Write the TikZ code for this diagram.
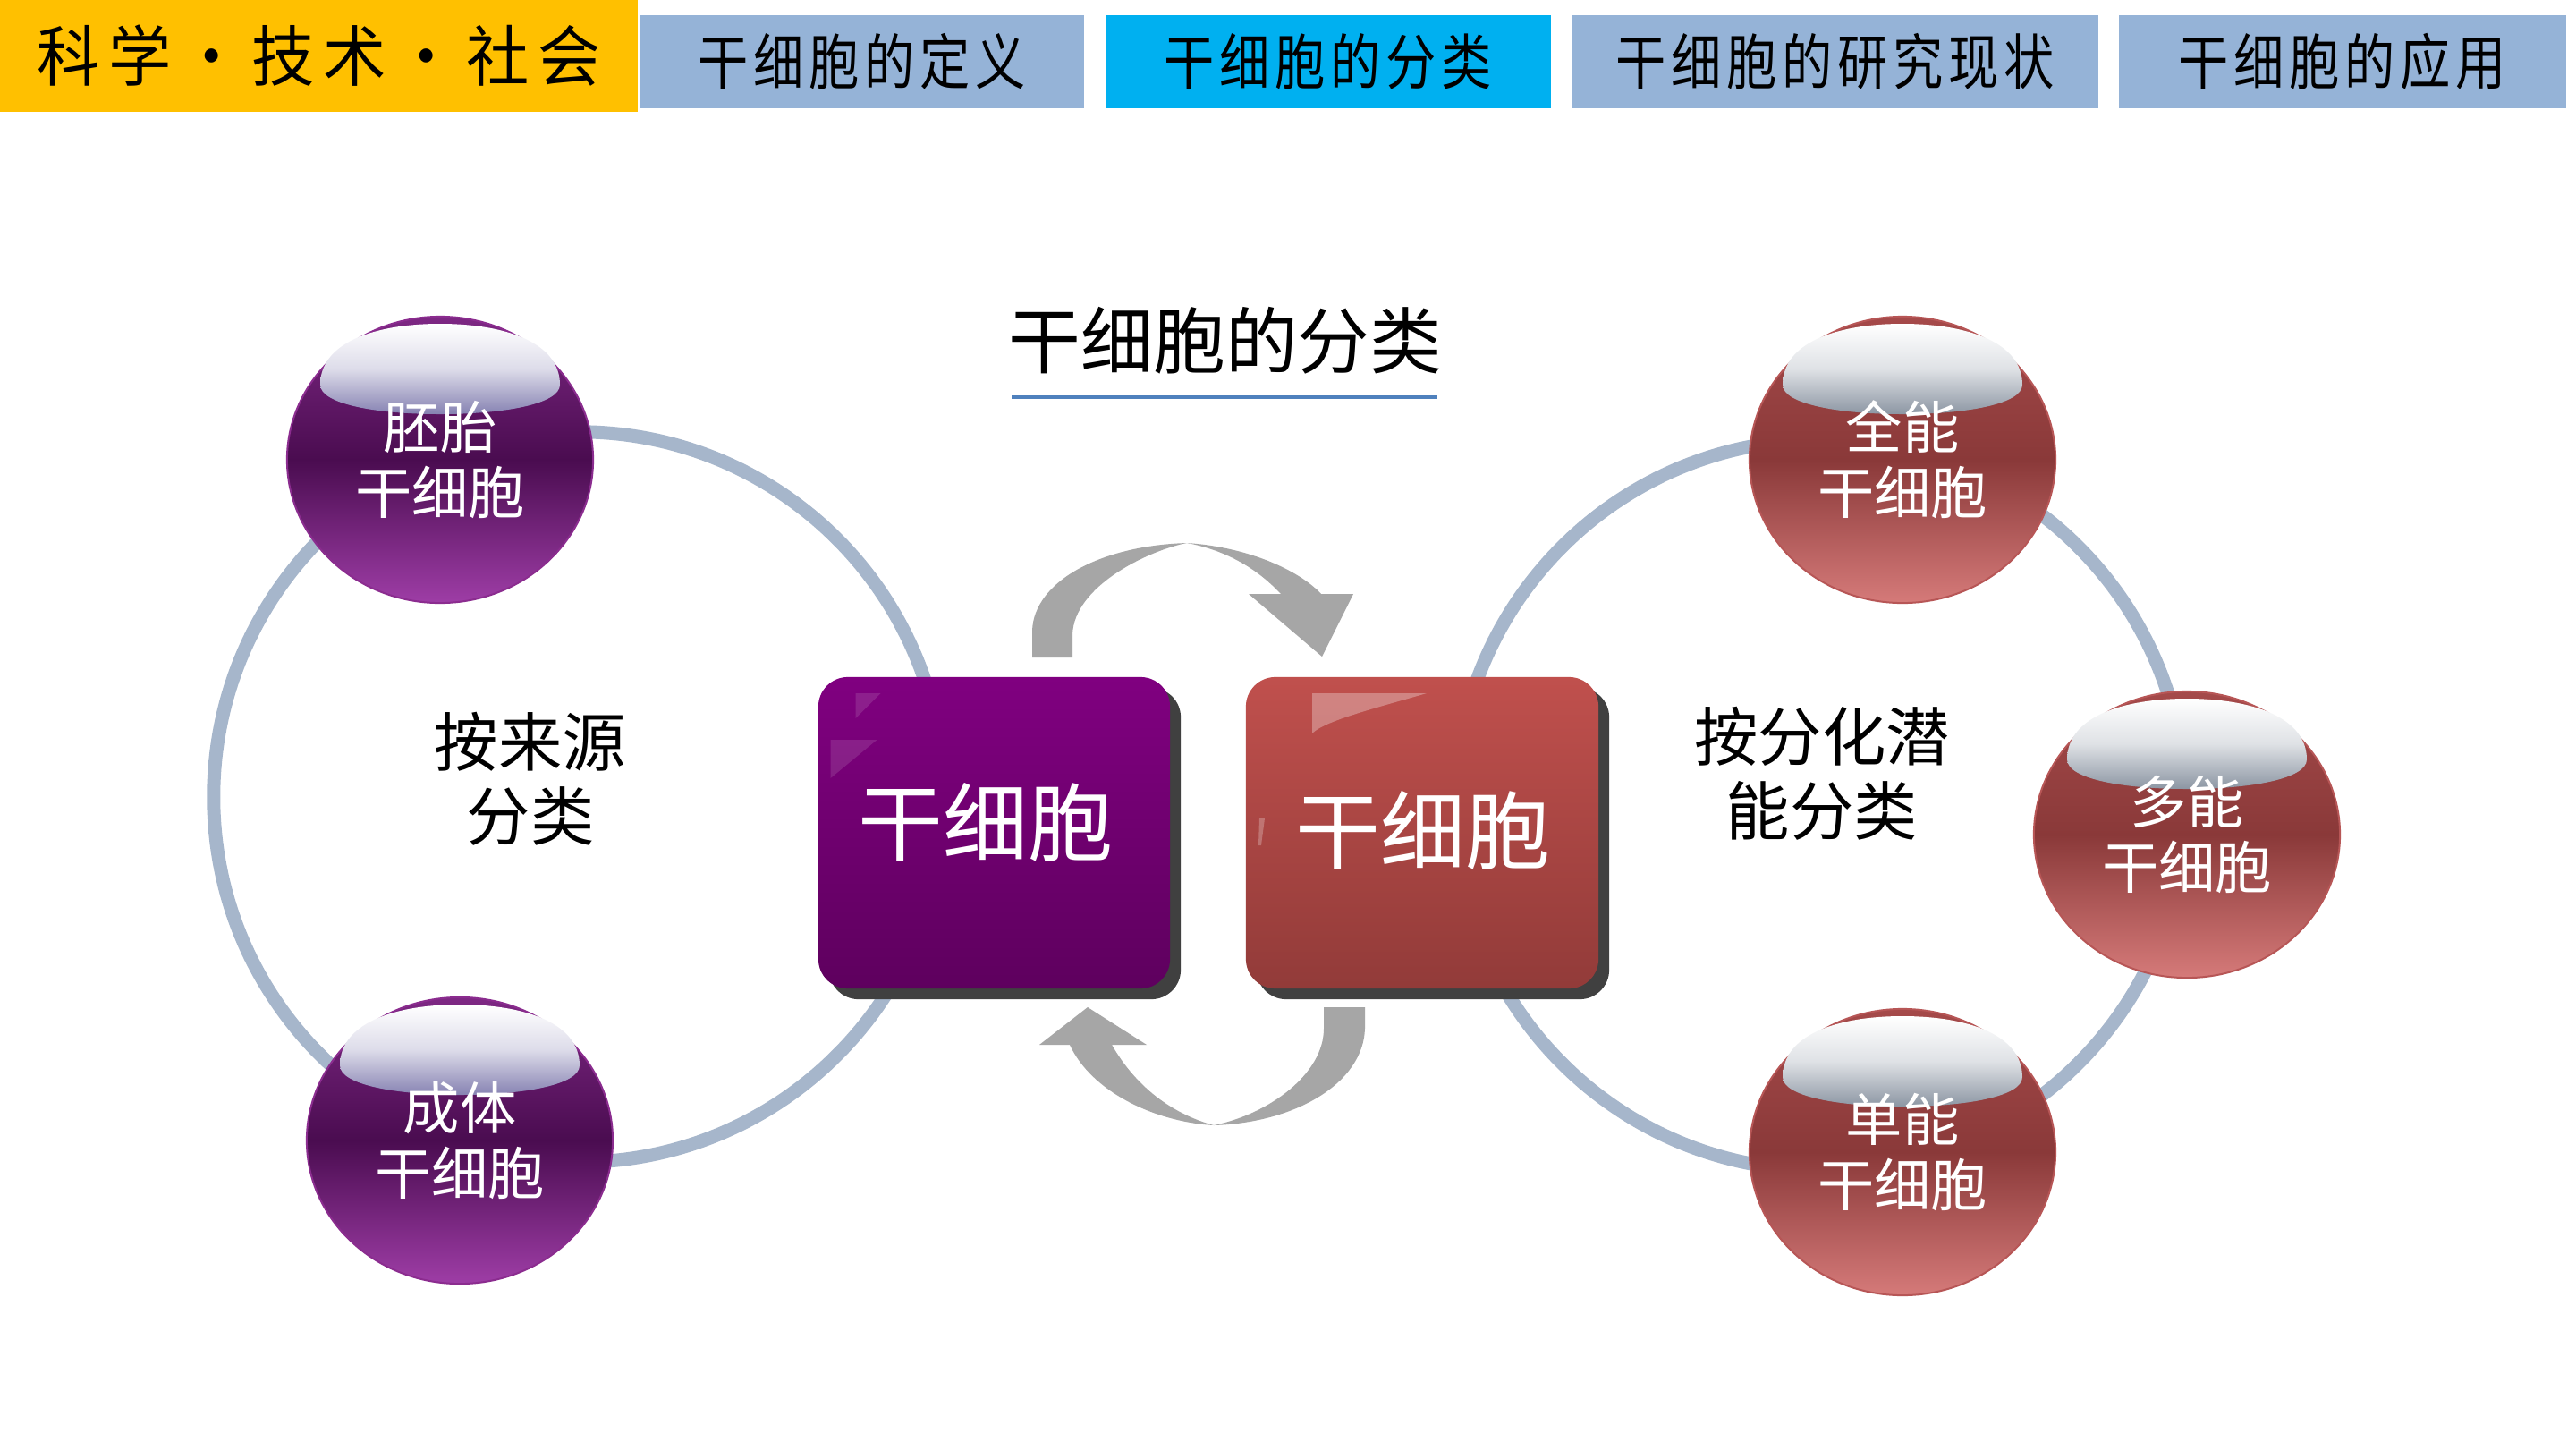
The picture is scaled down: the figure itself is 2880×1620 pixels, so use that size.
\documentclass[tikz,border=0pt]{standalone}
\usepackage{fontspec}
\usepackage{graphicx}
\setmainfont{Noto Sans CJK SC}
\usetikzlibrary{shapes.geometric,shadows}

\definecolor{yellowc}{HTML}{FFC000}
\definecolor{tabc}{HTML}{95B3D7}
\definecolor{tabsel}{HTML}{00B0F0}
\definecolor{ringc}{HTML}{A6B6CB}
\definecolor{arrowc}{HTML}{A6A6A6}
\definecolor{ulc}{HTML}{4F81BD}
\definecolor{shadowc}{HTML}{404040}
\definecolor{boxPa}{HTML}{800080}
\definecolor{boxPb}{HTML}{5E005E}
\definecolor{boxRa}{HTML}{C0504D}
\definecolor{boxRb}{HTML}{923B39}
\definecolor{pSa}{HTML}{7E2884}
\definecolor{pSb}{HTML}{4A0C50}
\definecolor{pSc}{HTML}{9E3DA6}
\definecolor{pHL}{HTML}{8682B2}
\definecolor{pEdge}{HTML}{8B2C8F}
\definecolor{rSa}{HTML}{A54A4A}
\definecolor{rSb}{HTML}{8A3939}
\definecolor{rSc}{HTML}{D57A79}
\definecolor{rHL}{HTML}{8C96A3}
\definecolor{rEdge}{HTML}{B75656}

\newcommand\tc[1]{\makebox[0.62cm]{#1}}
\newcommand\yc[1]{\makebox[0.80cm]{#1}}

% #1 name, #2 position, #3 style, #4 highlight colour, #5 text
\newcommand\glassball[5]{%
  \node[#3] (#1) at (#2) {};
  \begin{scope}[shift={(#1.center)}]
    \shade[top color=white, bottom color=#4, middle color=white!72!#4]
      (-134,-84) .. controls (-134,-130) and (-75,-152) .. (0,-152)
      .. controls (75,-152) and (134,-130) .. (134,-84)
      .. controls (134,-62) and (70,-51) .. (0,-51)
      .. controls (-70,-51) and (-134,-62) .. (-134,-84) -- cycle;
  \end{scope}
  \node[spheretext] (#1T) at (#1.center) {#5};}

\tikzset{
  tabbox/.style={rectangle, inner sep=0pt, fill=tabc, minimum height=1.04cm,
    font=\fontsize{16}{18}\selectfont},
  ring/.style={draw=ringc, line width=0.15cm},
  sphere/.style={ellipse, minimum width=3.42cm, minimum height=3.2cm, inner sep=0pt,
    line width=0.02cm},
  spheretext/.style={text=white, align=center, inner sep=0pt,
    font=\fontsize{18}{20.8}\selectfont},
  psph/.style={sphere, draw=pEdge, top color=pSa, bottom color=pSc, middle color=pSb},
  rsph/.style={sphere, draw=rEdge, top color=rSa, bottom color=rSc, middle color=rSb},
  bigbox/.style={rectangle, rounded corners=0.33cm, minimum height=3.48cm, inner sep=0pt,
    drop shadow={shadow xshift=0.12cm, shadow yshift=-0.12cm, fill=shadowc, opacity=1}},
  boxtext/.style={text=white, inner sep=0pt, font=\fontsize{27}{30}\selectfont},
  pbox/.style={bigbox, minimum width=3.93cm, top color=boxPa, bottom color=boxPb},
  rbox/.style={bigbox, minimum width=3.94cm, top color=boxRa, bottom color=boxRb},
  label/.style={align=center, text=black, font=\fontsize{20.3}{23.6}\selectfont},
  cyclearrow/.style={fill=arrowc, draw=none}
}

\begin{document}
\begin{tikzpicture}[x=0.01cm, y=-0.01cm]
\useasboundingbox[fill=white] (0,0) rectangle (2880,1620);

% top bar
\node[tabbox, fill=yellowc, minimum width=7.13cm, minimum height=1.25cm,
  font=\fontsize{20}{22}\selectfont] (brand) at (356.5,62.5)
  {\scalebox{1}[1.05]{\yc{科}\yc{学}\yc{•}\yc{技}\yc{术}\yc{•}\yc{社}\yc{会}}};
\node[tabbox, minimum width=4.96cm] (tabA) at (964,69)
  {\scalebox{1}[1.2]{\tc{干}\tc{细}\tc{胞}\tc{的}\tc{定}\tc{义}}};
\node[tabbox, fill=tabsel, minimum width=4.98cm] (tabB) at (1485,69)
  {\scalebox{1}[1.2]{\tc{干}\tc{细}\tc{胞}\tc{的}\tc{分}\tc{类}}};
\node[tabbox, minimum width=5.88cm] (tabC) at (2052,69)
  {\scalebox{1}[1.2]{\tc{干}\tc{细}\tc{胞}\tc{的}\tc{研}\tc{究}\tc{现}\tc{状}}};
\node[tabbox, minimum width=5.00cm] (tabD) at (2619,69)
  {\scalebox{1}[1.2]{\tc{干}\tc{细}\tc{胞}\tc{的}\tc{应}\tc{用}}};

% title
\node[font=\fontsize{23}{26}\selectfont] (title) at (1370,381) {干细胞的分类};
\draw[ulc, line width=0.04cm] (1131,444) -- (1607,444);

% rings
\coordinate (ringL) at (647,891);
\coordinate (ringR) at (2035,900);
\draw[ring] (ringL) circle [radius=4.08cm];
\draw[ring] (ringR) circle [radius=4.08cm];

% spheres
\glassball{embryo}{492,514}{psph}{pHL}{胚胎\\干细胞}
\glassball{adult}{514,1275}{psph}{pHL}{成体\\干细胞}
\glassball{toti}{2127,514}{rsph}{rHL}{全能\\干细胞}
\glassball{pluri}{2445,933}{rsph}{rHL}{多能\\干细胞}
\glassball{uni}{2127,1288}{rsph}{rHL}{单能\\干细胞}

% labels
\node[label] (bysource) at (593,871) {按来源\\分类};
\node[label] (bypotency) at (2037,865) {按分化潜\\能分类};

% central boxes
\node[pbox] (stemA) at (1111.5,931) {};
\begin{scope}[shift={(stemA.center)}]
  \fill[white, opacity=0.12] (-155,-156) -- (-127,-156) -- (-155,-128) -- cycle;
  \fill[white, opacity=0.12] (-183,-104) -- (-131,-104) -- (-183,-61) -- cycle;
\end{scope}
\node[boxtext] (stemAT) at (1102,919) {干细胞};

\node[rbox] (stemB) at (1590,931) {};
\begin{scope}[shift={(stemB.center)}]
  \fill[white, opacity=0.3] (-123,-156) -- (5,-156)
    .. controls (-50,-140) and (-110,-125) .. (-123,-111) -- cycle;
  \fill[white, opacity=0.25] (-182,-16) -- (-176,-16) -- (-180,14) -- (-183,14) -- cycle;
\end{scope}
\node[boxtext] (stemBT) at (1591,928) {干细胞};

% cycle arrows
\fill[cyclearrow] (1154,735) -- (1154,705)
  .. controls (1156,650) and (1230,610) .. (1327,607)
  .. controls (1400,612) and (1455,640) .. (1477,664)
  -- (1513,664) -- (1478,734) -- (1396,664) -- (1432,664)
  .. controls (1405,635) and (1370,615) .. (1327,607)
  .. controls (1285,615) and (1200,655) .. (1199,710)
  -- (1199,735) -- cycle;
\fill[cyclearrow] (1480,1126) -- (1526,1126) -- (1526,1150)
  .. controls (1524,1210) and (1450,1255) .. (1357,1258)
  .. controls (1290,1254) and (1220,1220) .. (1196,1168)
  -- (1162,1168) -- (1216,1126) -- (1282,1168) -- (1243,1168)
  .. controls (1270,1215) and (1310,1245) .. (1357,1258)
  .. controls (1420,1245) and (1480,1200) .. (1480,1150) -- cycle;
\end{tikzpicture}
\end{document}
